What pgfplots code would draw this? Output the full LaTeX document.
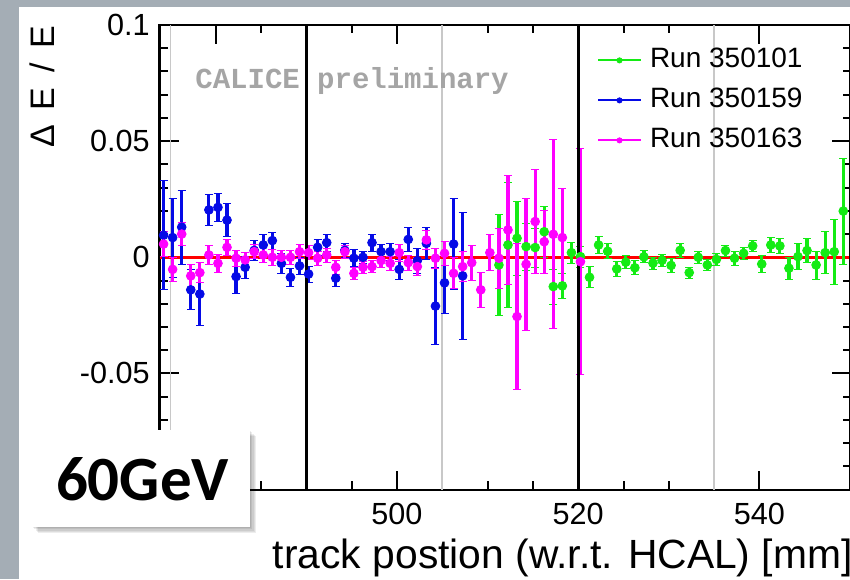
\documentclass[border=0pt]{standalone}
\usepackage{fontspec}
\setmainfont{Liberation Sans}
\newfontfamily\monofont{Liberation Mono}
\newfontfamily\calibri{Carlito}
\usepackage{pgfplots}
\pgfplotsset{compat=1.18}
\usepackage{pgfplotstable}
\definecolor{slidegrey}{RGB}{164,173,181}
\definecolor{rgreen}{RGB}{20,235,20}
\definecolor{rblue}{RGB}{5,10,230}
\definecolor{rmag}{RGB}{255,0,255}
\definecolor{lgrey}{RGB}{200,200,200}
\definecolor{calgrey}{RGB}{165,165,165}

\pgfplotstableread{
x y ey
511.25 -0.0033 0.0219
512.25 0.0053 0.027
513.25 0.0082 0.016
514.25 0.0046 0.0102
515.25 0.0042 0.0084
516.25 0.011 0.011
517.25 -0.0126 0.0075
518.25 -0.0123 0.0054
519.25 0.002 0.0045
520.25 0.0003 0.0045
521.25 -0.0086 0.0045
522.25 0.0053 0.0035
523.25 0.0026 0.0032
524.25 -0.005 0.0031
525.25 -0.0021 0.0028
526.25 -0.0045 0.003
527.25 0.0002 0.0026
528.25 -0.0025 0.0026
529.25 -0.0013 0.0027
530.25 -0.0035 0.0029
531.25 0.003 0.0029
532.25 -0.0066 0.0024
533.25 0.0 0.0025
534.25 -0.0033 0.0023
535.25 -0.0009 0.0024
536.25 0.0029 0.0024
537.25 -0.0004 0.0029
538.25 0.0017 0.0027
539.25 0.0049 0.0025
540.25 -0.0029 0.0036
541.25 0.0053 0.0033
542.25 0.0049 0.0032
543.25 -0.0047 0.0047
544.25 0.0003 0.0055
545.25 0.0029 0.0052
546.25 -0.0033 0.006
547.25 0.002 0.009
548.25 0.0024 0.0139
549.25 0.0199 0.0228
}\greendata

\pgfplotstableread{
x y ey
474.25 0.0095 0.0235
475.25 0.0085 0.017
476.25 0.013 0.016
477.25 -0.014 0.0086
478.25 -0.0158 0.0136
479.25 0.0204 0.0065
480.25 0.0215 0.0062
481.25 0.016 0.0072
482.25 -0.0083 0.0073
483.25 -0.0043 0.0047
484.25 0.003 0.0043
485.25 0.0053 0.0045
486.25 0.0072 0.0037
487.25 -0.0026 0.0043
488.25 -0.0086 0.004
489.25 -0.0037 0.0036
490.25 -0.0072 0.0034
491.25 0.0043 0.0034
492.25 0.0063 0.0036
493.25 -0.009 0.0036
494.25 0.003 0.003
495.25 -0.0004 0.0036
496.25 0.0 0.0027
497.25 0.0063 0.0036
498.25 0.0024 0.003
499.25 0.0024 0.0038
500.25 -0.0052 0.0045
501.25 0.0077 0.0052
502.25 -0.0014 0.0054
503.25 0.006 0.0068
504.25 -0.021 0.0165
505.25 -0.011 0.0133
506.25 0.0057 0.0197
507.25 -0.008 0.0275
}\bluedata

\pgfplotstableread{
x y ey
474.25 0.0057 0.0054
475.25 -0.0052 0.005
476.25 0.010 0.0049
477.25 -0.008 0.005
478.25 -0.0066 0.0044
479.25 0.001 0.004
480.25 -0.0026 0.0038
481.25 0.0043 0.0034
482.25 -0.0004 0.0034
483.25 -0.0011 0.0032
484.25 0.0024 0.003
485.25 0.001 0.0033
486.25 0.0 0.0033
487.25 0.0 0.003
488.25 0.0 0.003
489.25 0.0024 0.003
490.25 0.002 0.003
491.25 -0.0004 0.003
492.25 0.001 0.003
493.25 -0.0043 0.003
494.25 0.0024 0.0027
495.25 -0.0069 0.0025
496.25 -0.0043 0.0027
497.25 -0.004 0.0027
498.25 -0.0014 0.0029
499.25 -0.0026 0.003
500.25 0.002 0.0036
501.25 -0.0023 0.0032
502.25 -0.004 0.0038
503.25 0.0075 0.004
504.25 -0.0004 0.0043
505.25 0.0017 0.005
506.25 -0.0069 0.0067
507.25 -0.004 0.0065
508.25 -0.0023 0.0075
509.25 -0.014 0.0075
510.25 0.002 0.0077
511.25 -0.0004 0.013
512.25 0.0118 0.0233
513.25 -0.0255 0.0314
514.25 -0.003 0.0285
515.25 0.0154 0.0224
516.25 0.0067 0.0136
517.25 0.0099 0.0407
518.25 0.0085 0.0213
520.25 -0.0019 0.0486
}\magdata

\begin{document}
\begin{tikzpicture}
\fill[slidegrey] (0,0) rectangle (425pt,289.5pt);
\fill[white] (9.5pt,0) rectangle (425pt,286pt);
\path[use as bounding box] (0,0) rectangle (425pt,289.5pt);
\begin{axis}[
  at={(79.75pt,44.7pt)}, anchor=south west, scale only axis,
  width=345.75pt, height=232.3pt,
  xmin=473.8, xmax=550.1, ymin=-0.1, ymax=0.1,
  axis line style={line width=1.1pt},
  xtick={480,500,520,540}, xticklabels={,500,520,540},
  minor x tick num=3,
  ytick={-0.1,-0.05,0,0.05,0.1}, yticklabels={,-0.05,0,0.05,0.1},
  minor y tick num=4,
  tick align=inside,
  major tick length=9.5pt, minor tick length=4.2pt,
  every tick/.style={black, line width=1pt},
  tick label style={font=\fontsize{15.3}{18}\selectfont},
  yticklabel style={xshift=-1.4pt},
  xticklabel style={yshift=-3pt},
  xlabel={track postion (w.r.t. HCAL) [mm]},
  xlabel style={at={(axis description cs:1.0029,-0.16875)}, anchor=base east, inner sep=0pt, font=\fontsize{20.4}{24}\selectfont},
  ylabel={Δ\hspace{7.5pt}E\hspace{7.5pt}/\hspace{7.5pt}E},
  ylabel style={at={(axis description cs:-0.15112,1)}, anchor=base east, inner sep=0pt, font=\fontsize{17}{20}\selectfont},
  legend style={at={(axis description cs:0.6327,0.9518)}, anchor=north west, draw=none, fill=none,
    inner sep=0pt, outer sep=0pt, font=\fontsize{14}{16}\selectfont, row sep=7pt, column sep=4pt,
    nodes={inner sep=0pt, text height=10pt, text depth=3pt}},
  legend cell align=left,
  legend image code/.code={\draw[#1,line width=1pt] (0pt,0pt) -- (21.5pt,0pt); \fill[#1] (10.75pt,0pt) circle (1.3pt);},
]
% light grey vertical lines
\addplot[lgrey, line width=0.8pt, forget plot] coordinates {(475,-0.1) (475,0.1)};
\addplot[lgrey, line width=0.8pt, forget plot] coordinates {(505,-0.1) (505,0.1)};
\addplot[lgrey, line width=0.8pt, forget plot] coordinates {(535,-0.1) (535,0.1)};
% red zero line
\addplot[red, line width=1.6pt, forget plot] coordinates {(473.8,0) (550.1,0)};
% data
\addplot[color=rgreen, only marks, mark=*, mark size=2.2pt,
  error bars/.cd, y dir=both, y explicit, error bar style={line width=1.6pt, mark size=2pt}]
  table[x=x, y=y, y error=ey] {\greendata};
\addlegendentry{Run 350101}
\addplot[color=rblue, only marks, mark=*, mark size=2.2pt,
  error bars/.cd, y dir=both, y explicit, error bar style={line width=1.6pt, mark size=2pt}]
  table[x=x, y=y, y error=ey] {\bluedata};
\addlegendentry{Run 350159}
\addplot[color=rmag, only marks, mark=*, mark size=2.2pt,
  error bars/.cd, y dir=both, y explicit, error bar style={line width=1.6pt, mark size=2pt}]
  table[x=x, y=y, y error=ey] {\magdata};
\addlegendentry{Run 350163}
% black vertical lines
\addplot[black, line width=1.3pt, forget plot] coordinates {(490,-0.1) (490,0.1)};
\addplot[black, line width=1.3pt, forget plot] coordinates {(520,-0.1) (520,0.1)};
\addplot[black, line width=1.3pt, forget plot] coordinates {(550,-0.1) (550,0.1)};
\end{axis}
\node[font=\monofont\bfseries\fontsize{14.5}{17}\selectfont, text=calgrey, anchor=base west, inner sep=0pt] at (97.5pt,245.35pt) {CALICE preliminary};
% 60GeV box with shadow
\foreach \s in {0.6,1.2,1.8,2.4,3.0}{
  \fill[black, opacity=0.07] (16pt+\s pt,26pt-\s pt) rectangle (125pt+\s pt,74.5pt-\s pt);
}
\fill[white] (16pt,26pt) rectangle (125pt,74.5pt);
\node[font=\calibri\bfseries\fontsize{31.5}{36}\selectfont, anchor=base, inner sep=0pt] at (71.25pt,39.5pt) {60GeV};
\end{tikzpicture}
\end{document}
